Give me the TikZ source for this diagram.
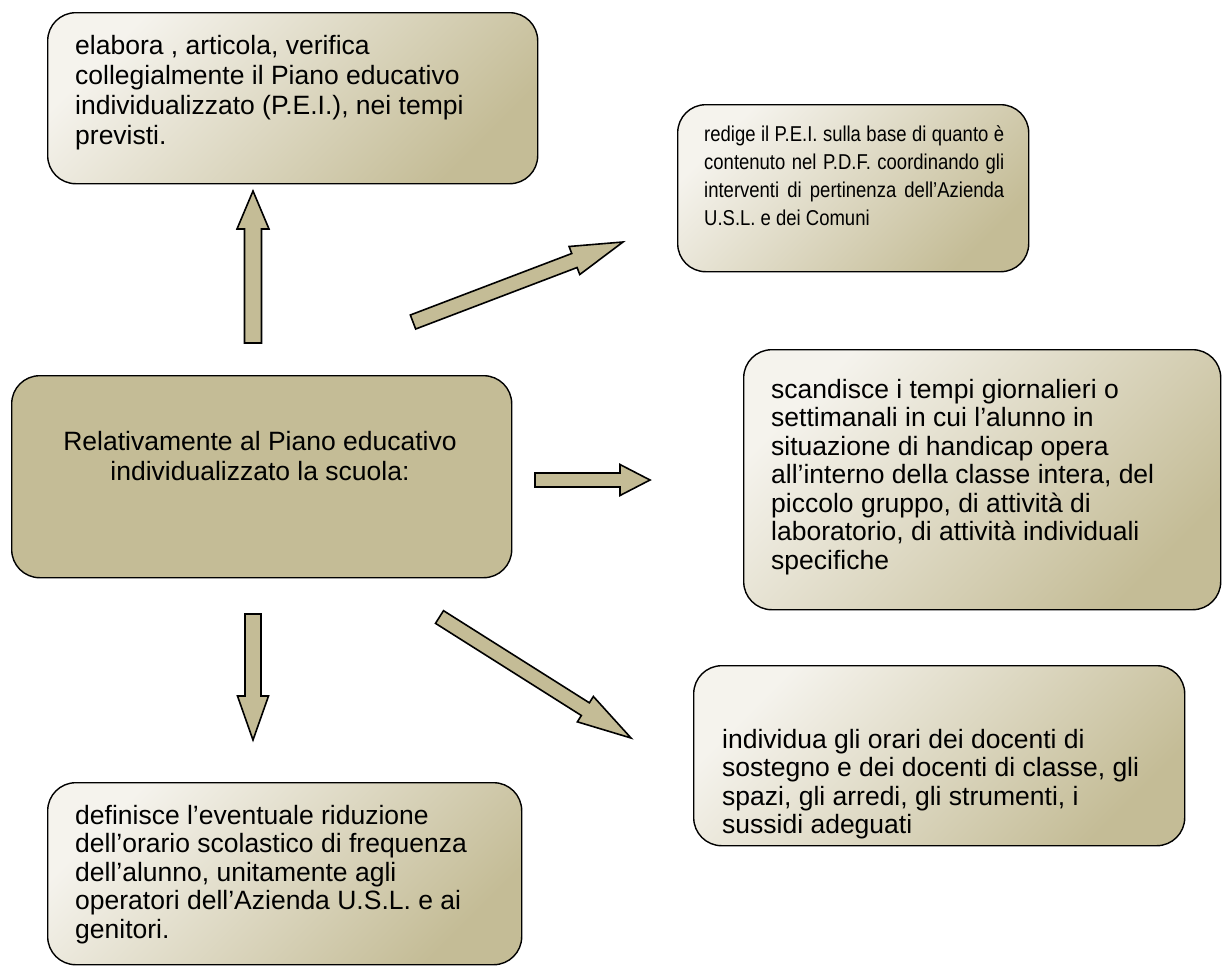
\documentclass[tikz,border=0pt]{standalone}
\usepackage{fontspec}
\setmainfont{Liberation Sans}
\newfontfamily\narrowsans[FakeStretch=0.86]{Liberation Sans}
\usetikzlibrary{calc}
\definecolor{khaki}{HTML}{C4BC96}
\definecolor{cream}{HTML}{F5F3ED}

% block arrow: #1 tail, #2 tip, #3 shaft half width, #4 head half width, #5 head length
\newcommand{\blockarrow}[5]{%
  \coordinate (hb) at ($(#2)!#5!(#1)$);
  \draw[arrowbody] ($(#1)!#3!90:(#2)$) -- ($(hb)!#3!90:(#2)$) -- ($(hb)!#4!90:(#2)$)
    -- (#2) -- ($(hb)!#4!-90:(#2)$) -- ($(hb)!#3!-90:(#2)$) -- ($(#1)!#3!-90:(#2)$) -- cycle;
}
% one justified line of the given width
\newcommand{\jline}[1]{\makebox[300pt][s]{#1}}

\tikzset{
  box/.style={draw=black, line width=1.4pt, rounded corners=28pt,
    top color=cream, bottom color=khaki, shading angle=45,
    anchor=north west, inner sep=0pt},
  flatbox/.style={draw=black, line width=1.4pt, rounded corners=28pt,
    fill=khaki, anchor=north west, inner sep=0pt},
  txt/.style={anchor=base west, inner sep=0pt, font=\fontsize{26.5}{28.5}\selectfont},
  arrowbody/.style={draw=black, line width=1.6pt, fill=khaki, line join=miter},
}

\begin{document}
\begin{tikzpicture}[x=1pt, y=-1pt]
\useasboundingbox (0,0) rectangle (1222,977);

% boxes
\node[box, minimum width=490pt, minimum height=171pt] (boxA) at (47,12) {};
\node[box, minimum width=351pt, minimum height=167pt] (boxB) at (677,104) {};
\node[box, minimum width=477pt, minimum height=260pt] (boxC) at (743,349) {};
\node[flatbox, minimum width=500pt, minimum height=202pt] (boxM) at (11,375) {};
\node[box, minimum width=491pt, minimum height=180pt] (boxD) at (693,665) {};
\node[box, minimum width=474pt, minimum height=182pt] (boxE) at (47,782) {};

% texts
\node[txt, font=\fontsize{26.5}{30}\selectfont] (tA) at (75,54) {\begin{tabular}[t]{@{}l@{}}
elabora , articola, verifica\\
collegialmente il Piano educativo\\
individualizzato (P.E.I.), nei tempi\\
previsti.\end{tabular}};

\node[txt, font=\narrowsans\fontsize{21.5}{28}\selectfont] (tB) at (704,141) {\begin{tabular}[t]{@{}l@{}}
\jline{redige il P.E.I. sulla base di quanto è}\\
\jline{contenuto nel P.D.F. coordinando gli}\\
\jline{interventi di pertinenza dell’Azienda}\\
U.S.L. e dei Comuni\end{tabular}};

\node[txt] (tC) at (771,398) {\begin{tabular}[t]{@{}l@{}}
scandisce i tempi giornalieri o\\
settimanali in cui l’alunno in\\
situazione di handicap opera\\
all’interno della classe intera, del\\
piccolo gruppo, di attività di\\
laboratorio, di attività individuali\\
specifiche\end{tabular}};

\node[txt, anchor=base, font=\fontsize{26.5}{30}\selectfont] (tM) at (260,450) {\begin{tabular}[t]{@{}c@{}}
Relativamente al Piano educativo\\
individualizzato la scuola:\end{tabular}};

\node[txt] (tD) at (722,748) {\begin{tabular}[t]{@{}l@{}}
individua gli orari dei docenti di\\
sostegno e dei docenti di classe, gli\\
spazi, gli arredi, gli strumenti, i\\
sussidi adeguati\end{tabular}};

\node[txt] (tE) at (75,824) {\begin{tabular}[t]{@{}l@{}}
definisce l’eventuale riduzione\\
dell’orario scolastico di frequenza\\
dell’alunno, unitamente agli\\
operatori dell’Azienda U.S.L. e ai\\
genitori.\end{tabular}};

% block arrows
\coordinate (upT) at (253,343);  \coordinate (upH) at (253,191);
\coordinate (dnT) at (253,614);  \coordinate (dnH) at (253,740);
\coordinate (rtT) at (535,480);  \coordinate (rtH) at (650,480);
\coordinate (urT) at (413,322);  \coordinate (urH) at (623,242);
\coordinate (drT) at (439.5,617); \coordinate (drH) at (631,738);

\blockarrow{upT}{upH}{8.5pt}{16pt}{38pt}
\blockarrow{dnT}{dnH}{8pt}{15.5pt}{44pt}
\blockarrow{rtT}{rtH}{7pt}{15.5pt}{30pt}
\blockarrow{urT}{urH}{7.5pt}{15pt}{52pt}
\blockarrow{drT}{drH}{7.5pt}{15pt}{54pt}
\end{tikzpicture}
\end{document}
